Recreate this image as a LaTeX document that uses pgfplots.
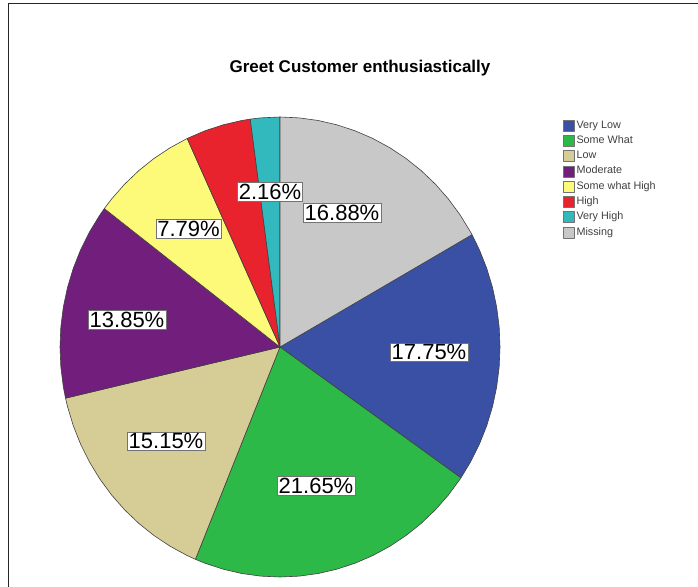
\documentclass[border=0pt]{standalone}
\usepackage{fontspec}
\setmainfont{Liberation Sans}
\usepackage{pgfplots}
\pgfplotsset{compat=1.18}
\definecolor{cVL}{RGB}{58,80,165}
\definecolor{cSW}{RGB}{45,185,72}
\definecolor{cLow}{RGB}{214,204,150}
\definecolor{cMod}{RGB}{114,30,124}
\definecolor{cSWH}{RGB}{252,250,120}
\definecolor{cHigh}{RGB}{232,35,45}
\definecolor{cVH}{RGB}{50,185,190}
\definecolor{cMiss}{RGB}{200,200,200}
\begin{document}
\begin{tikzpicture}
\useasboundingbox (0pt,0pt) rectangle (698pt,-586pt);
\draw[line width=1.8pt, black!85] (8.5pt,-600pt) -- (8.5pt,-3.5pt) -- (710pt,-3.5pt);
\node[font=\bfseries\fontsize{17}{19}\selectfont] at (360pt,-68pt) {Greet Customer enthusiastically};
% Percentages: Very Low 17.75, Some What 21.65, Low 15.15, Moderate 13.85,
% Some what High 7.79, High 4.77, Very High 2.16, Missing 16.88
% Slices start at 12 o'clock (90 deg) and run clockwise; coordinates are (angle, radius).
\begin{axis}[at={(280pt,-347pt)}, anchor=center, scale only axis,
  width=440pt, height=460pt, xmin=-1, xmax=1, ymin=-1, ymax=1,
  hide axis, clip=false,
  every axis plot/.append style={data cs=polar, draw=black!75, line width=0.6pt, line join=round},
  legend cell align=left,
  legend style={at={(1.1432,0.999)}, anchor=north west, draw=none, fill=none,
    font=\fontsize{10.8}{12}\selectfont, text=black!75, row sep=0pt, inner sep=0pt,
    nodes={text height=8pt, text depth=2.5pt, inner sep=2.4pt}},
  legend image code/.code={\draw[#1, draw=black!55, line width=0.4pt] (0pt,-5.5pt) rectangle (10.5pt,5.5pt);}
]
\addplot[fill=cVL] coordinates {(0,0) (-34.668,1) (-30,1) (-25,1) (-20,1) (-15,1) (-10,1) (-5,1) (0,1) (5,1) (10,1) (15,1) (20,1) (25,1) (29.232,1) (0,0)};
\addlegendentry{Very Low}
\addplot[fill=cSW] coordinates {(0,0) (-112.608,1) (-110,1) (-105,1) (-100,1) (-95,1) (-90,1) (-85,1) (-80,1) (-75,1) (-70,1) (-65,1) (-60,1) (-55,1) (-50,1) (-45,1) (-40,1) (-35,1) (-34.668,1) (0,0)};
\addlegendentry{Some What}
\addplot[fill=cLow] coordinates {(0,0) (-167.148,1) (-165,1) (-160,1) (-155,1) (-150,1) (-145,1) (-140,1) (-135,1) (-130,1) (-125,1) (-120,1) (-115,1) (-112.608,1) (0,0)};
\addlegendentry{Low}
\addplot[fill=cMod] coordinates {(0,0) (-217.008,1) (-215,1) (-210,1) (-205,1) (-200,1) (-195,1) (-190,1) (-185,1) (-180,1) (-175,1) (-170,1) (-167.148,1) (0,0)};
\addlegendentry{Moderate}
\addplot[fill=cSWH] coordinates {(0,0) (-245.052,1) (-240,1) (-235,1) (-230,1) (-225,1) (-220,1) (-217.008,1) (0,0)};
\addlegendentry{Some what High}
\addplot[fill=cHigh] coordinates {(0,0) (-262.224,1) (-260,1) (-255,1) (-250,1) (-245.052,1) (0,0)};
\addlegendentry{High}
\addplot[fill=cVH] coordinates {(0,0) (-270,1) (-265,1) (-262.224,1) (0,0)};
\addlegendentry{Very High}
\addplot[fill=cMiss] coordinates {(0,0) (29.232,1) (30,1) (35,1) (40,1) (45,1) (50,1) (55,1) (60,1) (65,1) (70,1) (75,1) (80,1) (85,1) (90,1) (0,0)};
\addlegendentry{Missing}
\end{axis}
\tikzset{lbl/.style={draw=black!55, fill=white, line width=0.5pt, inner sep=1.5pt, font=\fontsize{22}{24}\selectfont}}
\node[lbl] at (342pt,-213pt) {16.88\%};
\node[lbl] at (429pt,-352pt) {17.75\%};
\node[lbl] at (316pt,-486pt) {21.65\%};
\node[lbl] at (166pt,-441pt) {15.15\%};
\node[lbl] at (127pt,-320pt) {13.85\%};
\node[lbl] at (188.5pt,-228.5pt) {7.79\%};
\node[lbl] at (270pt,-192pt) {2.16\%};
\end{tikzpicture}
\end{document}
